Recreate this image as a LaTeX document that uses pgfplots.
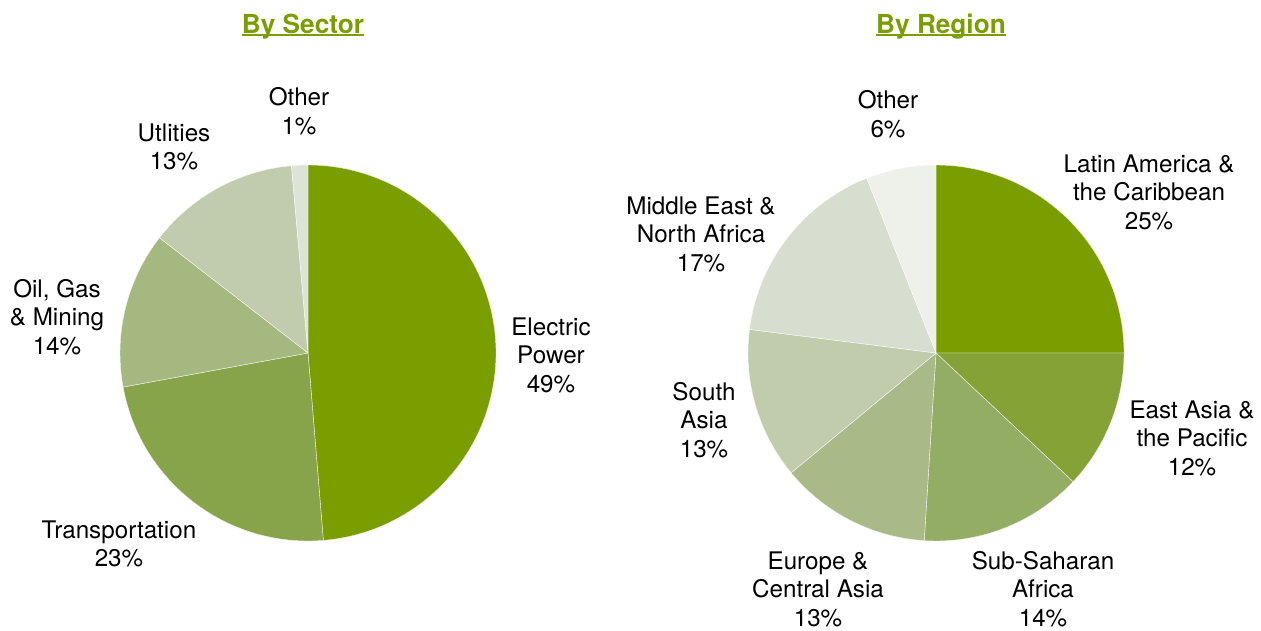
\documentclass[border=0pt]{standalone}
\usepackage{pgfplots}
\usepackage{pgfplotstable}
\pgfplotsset{compat=1.18}
\usepackage{fontspec}
\setmainfont{TeX Gyre Heros}
\definecolor{titlegreen}{HTML}{7A9E00}
\definecolor{sA}{HTML}{7A9D00}
\definecolor{sB}{HTML}{88A44A}
\definecolor{sC}{HTML}{A5B880}
\definecolor{sD}{HTML}{C1CCAE}
\definecolor{sE}{HTML}{DDE3D5}
\definecolor{rA}{HTML}{7A9D00}
\definecolor{rB}{HTML}{84A236}
\definecolor{rC}{HTML}{94AD64}
\definecolor{rD}{HTML}{A9BA88}
\definecolor{rE}{HTML}{C1CCAD}
\definecolor{rF}{HTML}{D8DECF}
\definecolor{rG}{HTML}{EEF1EA}

% By Sector (clockwise from 12 o'clock), slice sizes as drawn
\pgfplotstableread{
v    c
48.7 sA
23.4 sB
13.4 sC
13.1 sD
1.4  sE
}\sectortable
% By Region (clockwise from 12 o'clock)
\pgfplotstableread{
v  c
25 rA
12 rB
14 rC
13 rD
13 rE
17 rF
6  rG
}\regiontable

\newcommand{\drawpie}[3]{%
  \pgfplotstablegetrowsof{#1}\edef\nrows{\pgfplotsretval}%
  \pgfmathtruncatemacro\lastrow{\nrows-1}%
  \gdef\cum{0}%
  \foreach \i in {0,...,\lastrow}{%
    \pgfplotstablegetelem{\i}{v}\of{#1}\edef\val{\pgfplotsretval}%
    \pgfplotstablegetelem{\i}{c}\of{#1}\edef\col{\pgfplotsretval}%
    \pgfmathsetmacro\sa{90-3.6*\cum}%
    \pgfmathsetmacro\ea{90-3.6*(\cum+\val)}%
    \fill[fill=\col, draw=white!85!\col, line width=0.4bp, line join=round]
      (axis cs:#2,#3) -- ++(\sa:188bp) arc[start angle=\sa, end angle=\ea, radius=188bp] -- cycle;
    \pgfmathsetmacro\newcum{\cum+\val}%
    \xdef\cum{\newcum}%
  }%
}
\newcommand{\ttl}[1]{\setbox0\hbox{#1}\rlap{\rule[-2.8bp]{\wd0}{1.8bp}}\box0}

\begin{document}
\begin{tikzpicture}
\begin{axis}[
  width=1261bp, height=627bp, scale only axis,
  xmin=0, xmax=1261, ymin=0, ymax=627, y dir=reverse,
  hide axis, clip=false,
]
\pgfplotsextra{\drawpie{\sectortable}{308}{353}}
\pgfplotsextra{\drawpie{\regiontable}{936}{353}}

\begin{scope}[every node/.style={align=center, font=\fontsize{24.3}{28.6}\selectfont, text=black}]
\node[anchor=base, font=\fontsize{26.3}{30}\selectfont\bfseries, text=titlegreen] at (axis cs:303,33) {\ttl{By Sector}};
\node[anchor=base, font=\fontsize{26.3}{30}\selectfont\bfseries, text=titlegreen] at (axis cs:941,33) {\ttl{By Region}};

\node at (axis cs:299,111) {Other\\1\%};
\node at (axis cs:174,147) {Utlities\\13\%};
\node at (axis cs:57,317) {Oil, Gas\\\& Mining\\14\%};
\node at (axis cs:119,544) {Transportation\\23\%};
\node at (axis cs:551,355) {Electric\\Power\\49\%};

\node at (axis cs:888,114) {Other\\6\%};
\node at (axis cs:1149,192) {Latin America \&\\the Caribbean\\25\%};
\node at (axis cs:701,234) {Middle East \&\\North Africa\\17\%};
\node at (axis cs:704,420) {South\\Asia\\13\%};
\node at (axis cs:1192,438) {East Asia \&\\the Pacific\\12\%};
\node at (axis cs:818,589) {Europe \&\\Central Asia\\13\%};
\node at (axis cs:1043,589) {Sub-Saharan\\Africa\\14\%};
\end{scope}
\end{axis}
\path[use as bounding box] (0,0) rectangle (1261bp,627bp);
\end{tikzpicture}
\end{document}
